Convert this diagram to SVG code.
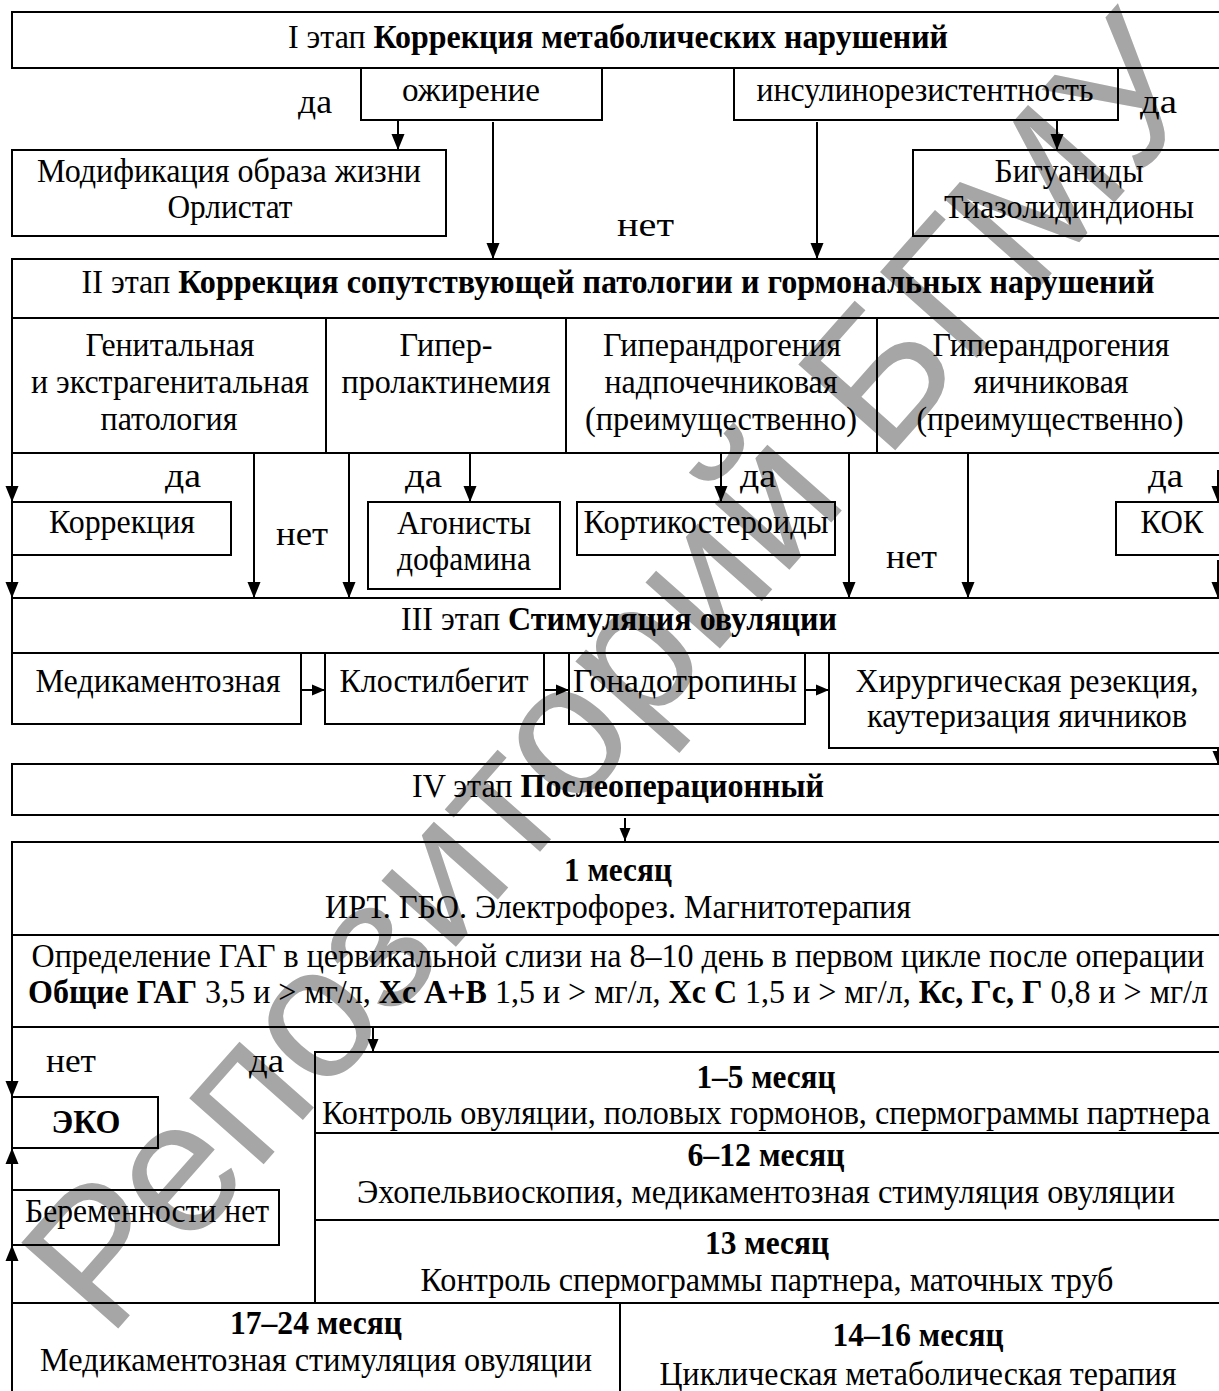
<svg xmlns="http://www.w3.org/2000/svg" width="1219" height="1391" viewBox="0 0 1219 1391">
<defs>
<style>
.t{font-family:"Liberation Serif","Times New Roman",serif;font-size:34px;fill:#000}
.b{font-weight:bold}
.c{text-anchor:middle}
.box{fill:none;stroke:#000;stroke-width:2}
.ln{fill:none;stroke:#000;stroke-width:2}
.wm{font-family:"Liberation Sans",Arial,sans-serif;font-size:188px;fill:#a6a6a6}
</style>
<marker id="ah" markerUnits="userSpaceOnUse" markerWidth="14" markerHeight="16" refX="16" refY="7" orient="auto">
<path d="M0,0.5 L16,7 L0,13.5 z" fill="#000"/>
</marker>
<marker id="as" markerUnits="userSpaceOnUse" markerWidth="13" markerHeight="12" refX="13" refY="6" orient="auto">
<path d="M0,0.5 L13,6 L0,11.5 z" fill="#000"/>
</marker>
</defs>
<rect x="0" y="0" width="1219" height="1391" fill="#fff"/>
<g id="watermark">
<text class="wm" transform="translate(108,1340) rotate(-48.5)">Репозиторий БГМУ</text>
</g>

<g id="stage1">
<rect class="box" x="12" y="12" width="1212" height="56"/>
<text class="t c" x="618" y="48" textLength="660" lengthAdjust="spacingAndGlyphs">I этап <tspan class="b">Коррекция метаболических нарушений</tspan></text>
</g>
<g id="obesity">
<rect class="box" x="361" y="68" width="241" height="52"/>
<text class="t c" x="471" y="101" textLength="138" lengthAdjust="spacingAndGlyphs">ожирение</text>
</g>
<g id="insulin">
<rect class="box" x="734" y="68" width="384" height="52"/>
<text class="t c" x="925" y="101" textLength="337" lengthAdjust="spacingAndGlyphs">инсулинорезистентность</text>
</g>
<g id="lifestyle">
<rect class="box" x="12" y="150" width="434" height="86"/>
<text class="t c" x="229" y="182" textLength="384" lengthAdjust="spacingAndGlyphs">Модификация образа жизни</text>
<text class="t c" x="230" y="218" textLength="125" lengthAdjust="spacingAndGlyphs">Орлистат</text>
</g>
<g id="biguanides">
<rect class="box" x="913" y="150" width="312" height="86"/>
<text class="t c" x="1069" y="182" textLength="149" lengthAdjust="spacingAndGlyphs">Бигуаниды</text>
<text class="t c" x="1069" y="218" textLength="250" lengthAdjust="spacingAndGlyphs">Тиазолидиндионы</text>
</g>

<g id="stage2">
<rect class="box" x="12" y="259" width="1212" height="59"/>
<text class="t c" x="618" y="293" textLength="1073" lengthAdjust="spacingAndGlyphs">II этап <tspan class="b">Коррекция сопутствующей патологии и гормональных нарушений</tspan></text>
</g>
<g id="genital">
<rect class="box" x="12" y="318" width="314" height="135"/>
<text class="t c" x="170" y="356" textLength="169" lengthAdjust="spacingAndGlyphs">Генитальная</text>
<text class="t c" x="170" y="393" textLength="278" lengthAdjust="spacingAndGlyphs">и экстрагенитальная</text>
<text class="t c" x="169" y="430" textLength="137" lengthAdjust="spacingAndGlyphs">патология</text>
</g>
<g id="hyperprolactinemia">
<rect class="box" x="326" y="318" width="240" height="135"/>
<text class="t c" x="446" y="356" textLength="93" lengthAdjust="spacingAndGlyphs">Гипер-</text>
<text class="t c" x="446" y="393" textLength="209" lengthAdjust="spacingAndGlyphs">пролактинемия</text>
</g>
<g id="adrenal">
<rect class="box" x="566" y="318" width="311" height="135"/>
<text class="t c" x="722" y="356" textLength="238" lengthAdjust="spacingAndGlyphs">Гиперандрогения</text>
<text class="t c" x="721" y="393" textLength="233" lengthAdjust="spacingAndGlyphs">надпочечниковая</text>
<text class="t c" x="721" y="430" textLength="272" lengthAdjust="spacingAndGlyphs">(преимущественно)</text>
</g>
<g id="ovarian">
<rect class="box" x="877" y="318" width="347" height="135"/>
<text class="t c" x="1051" y="356" textLength="237" lengthAdjust="spacingAndGlyphs">Гиперандрогения</text>
<text class="t c" x="1051" y="393" textLength="155" lengthAdjust="spacingAndGlyphs">яичниковая</text>
<text class="t c" x="1050" y="430" textLength="267" lengthAdjust="spacingAndGlyphs">(преимущественно)</text>
</g>
<g id="correction">
<rect class="box" x="12" y="502" width="219" height="53"/>
<text class="t c" x="122" y="533" textLength="146" lengthAdjust="spacingAndGlyphs">Коррекция</text>
</g>
<g id="agonists">
<rect class="box" x="368" y="502" width="192" height="87"/>
<text class="t c" x="464" y="534" textLength="134" lengthAdjust="spacingAndGlyphs">Агонисты</text>
<text class="t c" x="464" y="570" textLength="134" lengthAdjust="spacingAndGlyphs">дофамина</text>
</g>
<g id="corticosteroids">
<rect class="box" x="577" y="502" width="258" height="53"/>
<text class="t c" x="706" y="533" textLength="245" lengthAdjust="spacingAndGlyphs">Кортикостероиды</text>
</g>
<g id="kok">
<rect class="box" x="1116" y="502" width="110" height="53"/>
<text class="t c" x="1172" y="533" textLength="63" lengthAdjust="spacingAndGlyphs">КОК</text>
</g>

<g id="stage3">
<rect class="box" x="12" y="598" width="1212" height="55"/>
<text class="t c" x="619" y="630" textLength="436" lengthAdjust="spacingAndGlyphs">III этап <tspan class="b">Стимуляция овуляции</tspan></text>
</g>
<g id="medicamentous">
<rect class="box" x="12" y="653" width="289" height="71"/>
<text class="t c" x="158" y="692" textLength="245" lengthAdjust="spacingAndGlyphs">Медикаментозная</text>
</g>
<g id="clostilbegit">
<rect class="box" x="325" y="653" width="219" height="71"/>
<text class="t c" x="434" y="692" textLength="189" lengthAdjust="spacingAndGlyphs">Клостилбегит</text>
</g>
<g id="gonadotropins">
<rect class="box" x="569" y="653" width="236" height="71"/>
<text class="t c" x="685" y="692" textLength="224" lengthAdjust="spacingAndGlyphs">Гонадотропины</text>
</g>
<g id="surgery">
<rect class="box" x="829" y="653" width="397" height="95"/>
<text class="t c" x="1027" y="692" textLength="343" lengthAdjust="spacingAndGlyphs">Хирургическая резекция,</text>
<text class="t c" x="1027" y="727" textLength="320" lengthAdjust="spacingAndGlyphs">каутеризация яичников</text>
</g>

<g id="stage4">
<rect class="box" x="12" y="764" width="1212" height="51"/>
<text class="t c" x="618" y="797" textLength="412" lengthAdjust="spacingAndGlyphs">IV этап <tspan class="b">Послеоперационный</tspan></text>
</g>
<g id="month1">
<rect class="box" x="12" y="842" width="1212" height="93"/>
<text class="t c b" x="618" y="881" textLength="108" lengthAdjust="spacingAndGlyphs">1 месяц</text>
<text class="t c" x="618" y="918" textLength="586" lengthAdjust="spacingAndGlyphs">ИРТ. ГБО. Электрофорез. Магнитотерапия</text>
</g>
<g id="gag">
<rect class="box" x="12" y="935" width="1212" height="92"/>
<text class="t c" x="618" y="967" textLength="1173" lengthAdjust="spacingAndGlyphs">Определение ГАГ в цервикальной слизи на 8–10 день в первом цикле после операции</text>
<text class="t c" x="618" y="1003" textLength="1180" lengthAdjust="spacingAndGlyphs"><tspan class="b">Общие ГАГ</tspan> 3,5 и &gt; мг/л, <tspan class="b">Хс А+В</tspan> 1,5 и &gt; мг/л, <tspan class="b">Хс С</tspan> 1,5 и &gt; мг/л, <tspan class="b">Кс, Гс, Г</tspan> 0,8 и &gt; мг/л</text>
</g>
<g id="eko">
<rect class="box" x="12" y="1097" width="146" height="51"/>
<text class="t c b" x="86" y="1133" textLength="69" lengthAdjust="spacingAndGlyphs">ЭКО</text>
</g>
<g id="no-pregnancy">
<rect class="box" x="12" y="1190" width="267" height="55"/>
<text class="t c" x="147" y="1222" textLength="244" lengthAdjust="spacingAndGlyphs">Беременности нет</text>
</g>
<g id="months1-5">
<rect class="box" x="315" y="1052" width="909" height="81"/>
<text class="t c b" x="766" y="1088" textLength="139" lengthAdjust="spacingAndGlyphs">1–5 месяц</text>
<text class="t c" x="766" y="1124" textLength="888" lengthAdjust="spacingAndGlyphs">Контроль овуляции, половых гормонов, спермограммы партнера</text>
</g>
<g id="months6-12">
<rect class="box" x="315" y="1133" width="909" height="87"/>
<text class="t c b" x="766" y="1166" textLength="157" lengthAdjust="spacingAndGlyphs">6–12 месяц</text>
<text class="t c" x="766" y="1203" textLength="818" lengthAdjust="spacingAndGlyphs">Эхопельвиоскопия, медикаментозная стимуляция овуляции</text>
</g>
<g id="month13">
<rect class="box" x="315" y="1220" width="909" height="83"/>
<text class="t c b" x="767" y="1254" textLength="124" lengthAdjust="spacingAndGlyphs">13 месяц</text>
<text class="t c" x="767" y="1291" textLength="693" lengthAdjust="spacingAndGlyphs">Контроль спермограммы партнера, маточных труб</text>
</g>
<g id="months17-24">
<rect class="box" x="12" y="1303" width="608" height="95"/>
<text class="t c b" x="316" y="1334" textLength="172" lengthAdjust="spacingAndGlyphs">17–24 месяц</text>
<text class="t c" x="316" y="1371" textLength="552" lengthAdjust="spacingAndGlyphs">Медикаментозная стимуляция овуляции</text>
</g>
<g id="months14-16">
<rect class="box" x="620" y="1303" width="604" height="95"/>
<text class="t c b" x="918" y="1346" textLength="171" lengthAdjust="spacingAndGlyphs">14–16 месяц</text>
<text class="t c" x="918" y="1385" textLength="517" lengthAdjust="spacingAndGlyphs">Циклическая метаболическая терапия</text>
</g>

<g id="connectors">
<line class="ln" x1="398" y1="120" x2="398" y2="150" marker-end="url(#ah)"/>
<line class="ln" x1="493" y1="122" x2="493" y2="259" marker-end="url(#ah)"/>
<line class="ln" x1="817" y1="122" x2="817" y2="259" marker-end="url(#ah)"/>
<line class="ln" x1="1057" y1="120" x2="1057" y2="150" marker-end="url(#ah)"/>
<line class="ln" x1="12" y1="453" x2="12" y2="502" marker-end="url(#ah)"/>
<line class="ln" x1="12" y1="555" x2="12" y2="598" marker-end="url(#ah)"/>
<line class="ln" x1="254" y1="453" x2="254" y2="598" marker-end="url(#ah)"/>
<line class="ln" x1="349" y1="453" x2="349" y2="598" marker-end="url(#ah)"/>
<line class="ln" x1="470" y1="453" x2="470" y2="502" marker-end="url(#ah)"/>
<line class="ln" x1="721" y1="453" x2="721" y2="502" marker-end="url(#ah)"/>
<line class="ln" x1="849" y1="453" x2="849" y2="598" marker-end="url(#ah)"/>
<line class="ln" x1="968" y1="453" x2="968" y2="598" marker-end="url(#ah)"/>
<line class="ln" x1="1218" y1="470" x2="1218" y2="502" marker-end="url(#ah)"/>
<line class="ln" x1="1218" y1="560" x2="1218" y2="598" marker-end="url(#ah)"/>
<line class="ln" x1="301" y1="690" x2="325" y2="690" marker-end="url(#as)"/>
<line class="ln" x1="544" y1="690" x2="569" y2="690" marker-end="url(#as)"/>
<line class="ln" x1="805" y1="690" x2="829" y2="690" marker-end="url(#as)"/>
<line class="ln" x1="1218" y1="748" x2="1218" y2="764" marker-end="url(#as)"/>
<line class="ln" x1="625" y1="818" x2="625" y2="841" marker-end="url(#as)"/>
<line class="ln" x1="12" y1="1027" x2="12" y2="1097" marker-end="url(#ah)"/>
<line class="ln" x1="373" y1="1027" x2="373" y2="1052" marker-end="url(#as)"/>
<line class="ln" x1="12" y1="1190" x2="12" y2="1148" marker-end="url(#ah)"/>
<line class="ln" x1="12" y1="1391" x2="12" y2="1245" marker-end="url(#ah)"/>
<text class="t" x="298" y="113" textLength="34" lengthAdjust="spacingAndGlyphs">да</text>
<text class="t" x="1140" y="113" textLength="37" lengthAdjust="spacingAndGlyphs">да</text>
<text class="t" x="617" y="236" textLength="57" lengthAdjust="spacingAndGlyphs">нет</text>
<text class="t" x="165" y="487" textLength="36" lengthAdjust="spacingAndGlyphs">да</text>
<text class="t" x="276" y="545" textLength="52" lengthAdjust="spacingAndGlyphs">нет</text>
<text class="t" x="405" y="487" textLength="37" lengthAdjust="spacingAndGlyphs">да</text>
<text class="t" x="740" y="487" textLength="36" lengthAdjust="spacingAndGlyphs">да</text>
<text class="t" x="886" y="568" textLength="51" lengthAdjust="spacingAndGlyphs">нет</text>
<text class="t" x="1148" y="487" textLength="35" lengthAdjust="spacingAndGlyphs">да</text>
<text class="t" x="46" y="1072" textLength="50" lengthAdjust="spacingAndGlyphs">нет</text>
<text class="t" x="249" y="1072" textLength="35" lengthAdjust="spacingAndGlyphs">да</text>
</g>
</svg>
